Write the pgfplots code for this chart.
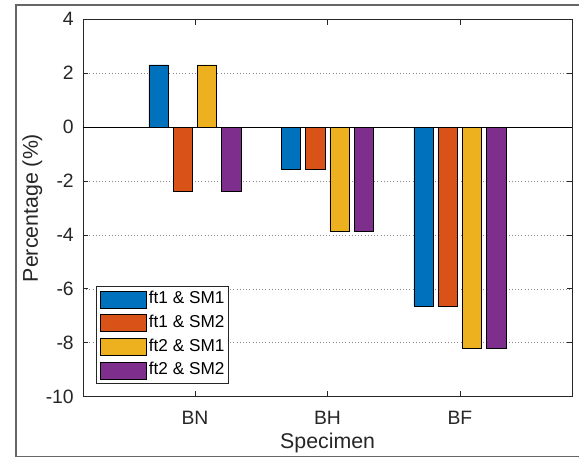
\documentclass[border=0pt]{standalone}
\usepackage{pgfplots}
\pgfplotsset{compat=1.18}
\usepackage{fontspec}
\setmainfont{Liberation Sans}
\setsansfont{Liberation Sans}
\definecolor{mblue}{rgb}{0,0.447,0.741}
\definecolor{morange}{rgb}{0.85,0.325,0.098}
\definecolor{myellow}{rgb}{0.929,0.694,0.125}
\definecolor{mpurple}{rgb}{0.494,0.184,0.556}
\definecolor{axgray}{rgb}{0.15,0.15,0.15}
\begin{document}
\begin{tikzpicture}
\useasboundingbox (0,0) rectangle (434.25pt,342.75pt);
\draw[draw=black!60, line width=1pt] (434.25pt,339pt) -- (12pt,339pt) -- (12pt,0.6pt) -- (434.25pt,0.6pt);
\begin{axis}[
  at={(62.25pt,45.225pt)}, anchor=south west,
  scale only axis, width=366.975pt, height=283.05pt,
  xmin=0.155, xmax=3.848, ymin=-10, ymax=4,
  xtick={1,2,3}, xticklabels={BN,BH,BF},
  ytick={-10,-8,-6,-4,-2,0,2,4},
  /pgf/number format/assume math mode=true,
  tick align=inside, major tick length=4pt,
  xtick pos=both, ytick pos=both,
  axis line style={axgray, line width=0.6pt},
  every tick/.style={axgray, line width=0.6pt},
  ymajorgrids, major grid style={dotted, black!45, line width=0.5pt},
  tick label style={font=\fontsize{14.5}{17}\selectfont, text=axgray},
  xticklabel style={anchor=base, yshift=-21.2pt, inner sep=0pt},
  yticklabel style={anchor=east, inner sep=0pt, xshift=-6.75pt},
  xlabel={Specimen}, ylabel={Percentage (\%)},
  label style={font=\fontsize{16}{19}\selectfont, text=axgray},
  xlabel style={at={(axis description cs:0.5,0)}, anchor=base, yshift=-38.5pt, inner sep=0pt},
  ylabel style={at={(axis description cs:-0.092,0.5)}, anchor=base, inner sep=0pt},
  legend cell align=left,
  legend style={at={(axis description cs:0,0)}, anchor=south west, xshift=9.75pt, yshift=9.5pt,
    draw=axgray, line width=0.6pt, inner xsep=2.6pt, inner ysep=3.2pt,
    font=\fontsize{12.9}{15}\selectfont, text=black,
    nodes={inner sep=0pt, text height=9.2pt, text depth=2.7pt},
    row sep=4.5pt, column sep=2pt},
  legend image code/.code={\draw[#1, line width=0.5pt] (0pt,-6.375pt) rectangle (34.3pt,6.375pt);},
]
\addplot[black, line width=0.7pt, forget plot] coordinates {(0.155,0) (3.848,0)};
\addplot[ybar, bar width=0.146, bar shift=0pt, fill=mblue, draw=black, line width=0.5pt]
  coordinates {(0.726,2.31) (1.726,-1.56) (2.726,-6.63)};
\addplot[ybar, bar width=0.146, bar shift=0pt, fill=morange, draw=black, line width=0.5pt]
  coordinates {(0.909,-2.37) (1.909,-1.56) (2.909,-6.63)};
\addplot[ybar, bar width=0.146, bar shift=0pt, fill=myellow, draw=black, line width=0.5pt]
  coordinates {(1.091,2.31) (2.091,-3.88) (3.091,-8.2)};
\addplot[ybar, bar width=0.146, bar shift=0pt, fill=mpurple, draw=black, line width=0.5pt]
  coordinates {(1.274,-2.37) (2.274,-3.88) (3.274,-8.2)};
\legend{ft1 \& SM1, ft1 \& SM2, ft2 \& SM1, ft2 \& SM2}
\end{axis}
\end{tikzpicture}
\end{document}
